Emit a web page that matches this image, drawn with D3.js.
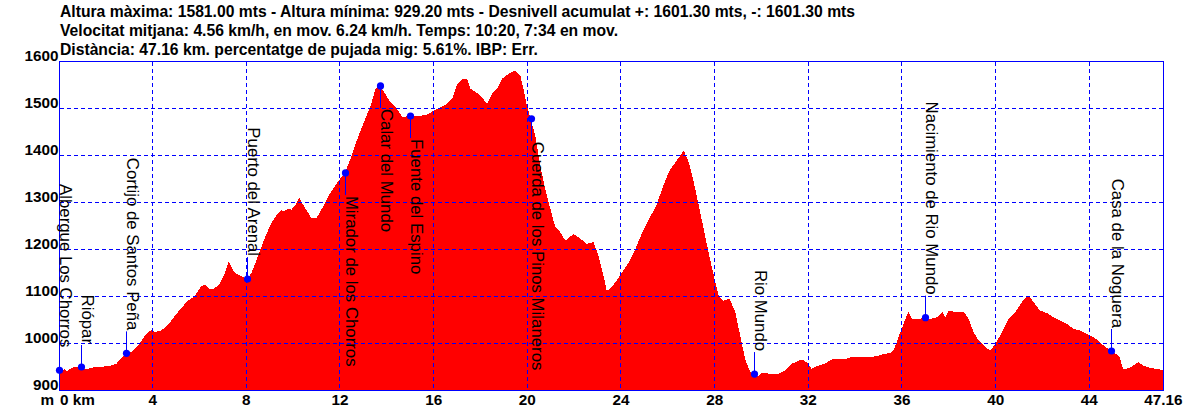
<!DOCTYPE html>
<html><head><meta charset="utf-8">
<script src="https://cdn.jsdelivr.net/npm/d3@7"></script>
<style>
body{margin:0;background:#fff}
text{font-family:Arial,"Liberation Sans",sans-serif}
</style>
</head><body>
<svg id="c" width="1192" height="410"></svg>
<script>
const titleLines = [
  "Altura màxima: 1581.00 mts - Altura mínima: 929.20 mts - Desnivell acumulat +: 1601.30 mts, -: 1601.30 mts",
  "Velocitat mitjana: 4.56 km/h, en mov. 6.24 km/h. Temps: 10:20, 7:34 en mov.",
  "Distància: 47.16 km. percentatge de pujada mig: 5.61%. IBP: Err."
];
const distKm = [0.00,0.12,0.24,0.35,0.53,0.70,0.94,1.10,1.24,1.45,1.67,1.90,2.09,2.30,2.45,2.66,2.86,3.00,3.16,3.30,3.45,3.66,3.80,3.95,4.09,4.37,4.50,4.66,4.94,5.23,5.51,5.80,6.08,6.23,6.44,6.60,6.79,6.95,7.08,7.25,7.40,7.51,7.79,8.02,8.22,8.50,8.79,9.07,9.36,9.50,9.64,9.80,9.93,10.10,10.26,10.50,10.78,11.00,11.21,11.50,11.78,11.89,12.21,12.45,12.74,13.02,13.31,13.52,13.70,13.88,14.16,14.44,14.66,14.98,15.30,15.72,16.02,16.29,16.57,16.79,17.00,17.21,17.43,17.57,17.71,17.99,18.28,18.49,18.70,18.92,19.20,19.49,19.70,19.84,19.98,20.14,20.34,20.55,20.76,20.98,21.19,21.40,21.62,21.97,22.26,22.54,22.82,23.04,23.25,23.39,23.53,23.77,24.06,24.34,24.62,24.91,25.19,25.48,25.76,26.04,26.33,26.54,26.68,26.89,27.11,27.32,27.53,27.74,27.96,28.17,28.38,28.64,28.88,29.09,29.30,29.52,29.70,29.85,30.01,30.44,30.72,31.01,31.29,31.72,31.93,32.14,32.43,32.71,33.00,33.28,33.56,33.84,34.13,34.41,34.70,34.98,35.26,35.50,35.66,35.87,36.09,36.27,36.44,36.72,36.98,37.22,37.50,37.72,37.86,38.00,38.28,38.64,38.85,39.06,39.28,39.56,39.77,39.99,40.27,40.55,40.84,41.12,41.40,41.62,41.90,42.18,42.47,42.75,43.04,43.32,43.60,43.89,44.17,44.38,44.60,44.94,45.16,45.30,45.45,45.73,46.09,46.30,46.58,46.87,47.16];
const elevM = [936,942,945,941,948,950,950,946,946,949,950,951,952,954,957,969,979,981,984,992,1001,1016,1024,1028,1024,1028,1033,1040,1058,1076,1091,1101,1122,1125,1115,1117,1122,1135,1150,1175,1160,1150,1143,1137,1150,1186,1225,1257,1278,1283,1282,1287,1285,1295,1310,1289,1267,1267,1285,1313,1335,1343,1363,1393,1435,1471,1506,1542,1550,1535,1513,1499,1482,1484,1483,1487,1496,1503,1510,1521,1552,1562,1563,1542,1538,1528,1510,1531,1542,1563,1574,1581,1570,1542,1506,1478,1443,1379,1329,1287,1248,1237,1219,1233,1223,1212,1216,1187,1145,1113,1116,1131,1152,1173,1201,1237,1265,1290,1329,1365,1386,1400,1411,1386,1343,1294,1244,1194,1145,1102,1091,1095,1067,1017,967,939,935,930,938,935,935,943,957,966,960,946,953,957,966,966,967,971,971,971,971,974,978,980,987,1016,1045,1067,1052,1052,1055,1052,1056,1067,1056,1070,1067,1067,1052,1024,1006,992,985,999,1024,1052,1067,1088,1102,1088,1070,1065,1056,1049,1042,1031,1028,1021,1014,1006,996,984,977,970,945,948,960,953,948,946,943];
const wpNames = ["Albergue Los Chorros","Riópar","Cortijo de Santos Peña","Puerto del Arenal","Mirador de los Chorros","Calar del Mundo","Fuente del Espino","Cuerda de los Pinos Milaneros","Rio Mundo","Nacimiento de Rio Mundo","Casa de la Noguera"];
const wpKm = [0.00,0.94,2.86,8.02,12.21,13.70,14.98,20.14,29.70,36.98,44.94];
const wpElev = [943,950,979,1137,1363,1548,1484,1478,935,1055,984];
const xTicks = [0,4,8,12,16,20,24,28,32,36,40,44,47.16];
const xTickLabels = ["0 km","4","8","12","16","20","24","28","32","36","40","44","47.16"];
const yTicks = [900,1000,1100,1200,1300,1400,1500,1600];
const yUnit = "m";

const svg = d3.select("#c");
const L = 59.5, R = 1163.5, T = 61.5, B = 390.5;
const x = d3.scaleLinear().domain([0, 47.16]).range([59, 1163.3]);
const y = d3.scaleLinear().domain([900, 1600]).range([B, T]);
const blue = "#0000ff";

// title
svg.selectAll("text.title").data(titleLines).enter().append("text")
  .attr("class","title").attr("x",60).attr("y",(d,i)=>17+i*19)
  .attr("font-size","15.7px").attr("font-weight","bold").attr("fill","#000").text(d=>d);

svg.append("defs").append("clipPath").attr("id","clip")
  .append("rect").attr("x",L).attr("y",T).attr("width",R-L).attr("height",B-T);

const prof = distKm.map((d,i)=>({d, e: elevM[i]}));
svg.append("path").datum(prof).attr("clip-path","url(#clip)")
  .attr("fill","#ff0000").attr("shape-rendering","crispEdges")
  .attr("d", d3.area().x(p=>x(p.d)).y0(B).y1(p=>y(p.e)));

// grid
const g = svg.append("g").attr("stroke",blue).attr("stroke-width",1)
  .attr("stroke-dasharray","4,3").attr("shape-rendering","crispEdges");
g.selectAll("line.v").data(xTicks.slice(1,-1)).enter().append("line")
  .attr("x1",d=>Math.floor(x(d))+0.5).attr("x2",d=>Math.floor(x(d))+0.5)
  .attr("y1",T).attr("y2",B);
g.selectAll("line.h").data(yTicks.slice(1,-1)).enter().append("line")
  .attr("y1",d=>y(d)).attr("y2",d=>y(d)).attr("x1",L).attr("x2",R);

svg.append("rect").attr("x",L).attr("y",T).attr("width",R-L).attr("height",B-T)
  .attr("fill","none").attr("stroke",blue).attr("stroke-width",1).attr("shape-rendering","crispEdges");

// y ticks
svg.selectAll("text.yt").data(yTicks).enter().append("text")
  .attr("x",58.5).attr("y",d=>y(d)-1).attr("text-anchor","end")
  .attr("font-size","15.3px").attr("font-weight","bold").text(d=>d);
// x ticks
svg.selectAll("text.xt").data(xTicks).enter().append("text")
  .attr("x",(d,i)=> i===0 ? 60 : x(d)).attr("y",405)
  .attr("text-anchor",(d,i)=> i===0 ? "start" : "middle")
  .attr("font-size","15.3px").attr("font-weight","bold").text((d,i)=>xTickLabels[i]);
svg.append("text").attr("x",54).attr("y",405).attr("text-anchor","end")
  .attr("font-size","15.3px").attr("font-weight","bold").text(yUnit);

// waypoints
const gap = 22;
wpNames.forEach((name,i)=>{
  const mx = Math.round(x(wpKm[i]))+0.5, my = y(wpElev[i]);
  const t = svg.append("text").attr("font-size","16.8px").attr("fill","#000").text(name);
  const len = t.node().getComputedTextLength();
  const above = (my - gap - len) > T + 20;
  if (above) {
    t.attr("text-anchor","end").attr("transform",`translate(${mx},${my-gap-1}) rotate(90)`);
    svg.append("line").attr("x1",mx).attr("x2",mx).attr("y1",my).attr("y2",my-gap).attr("stroke",blue);
  } else {
    t.attr("text-anchor","start").attr("transform",`translate(${mx},${my+gap+1}) rotate(90)`);
    svg.append("line").attr("x1",mx).attr("x2",mx).attr("y1",my).attr("y2",my+gap).attr("stroke",blue);
  }
  svg.append("circle").attr("cx",mx).attr("cy",my).attr("r",3.6).attr("fill",blue);
});
</script>
</body></html>
